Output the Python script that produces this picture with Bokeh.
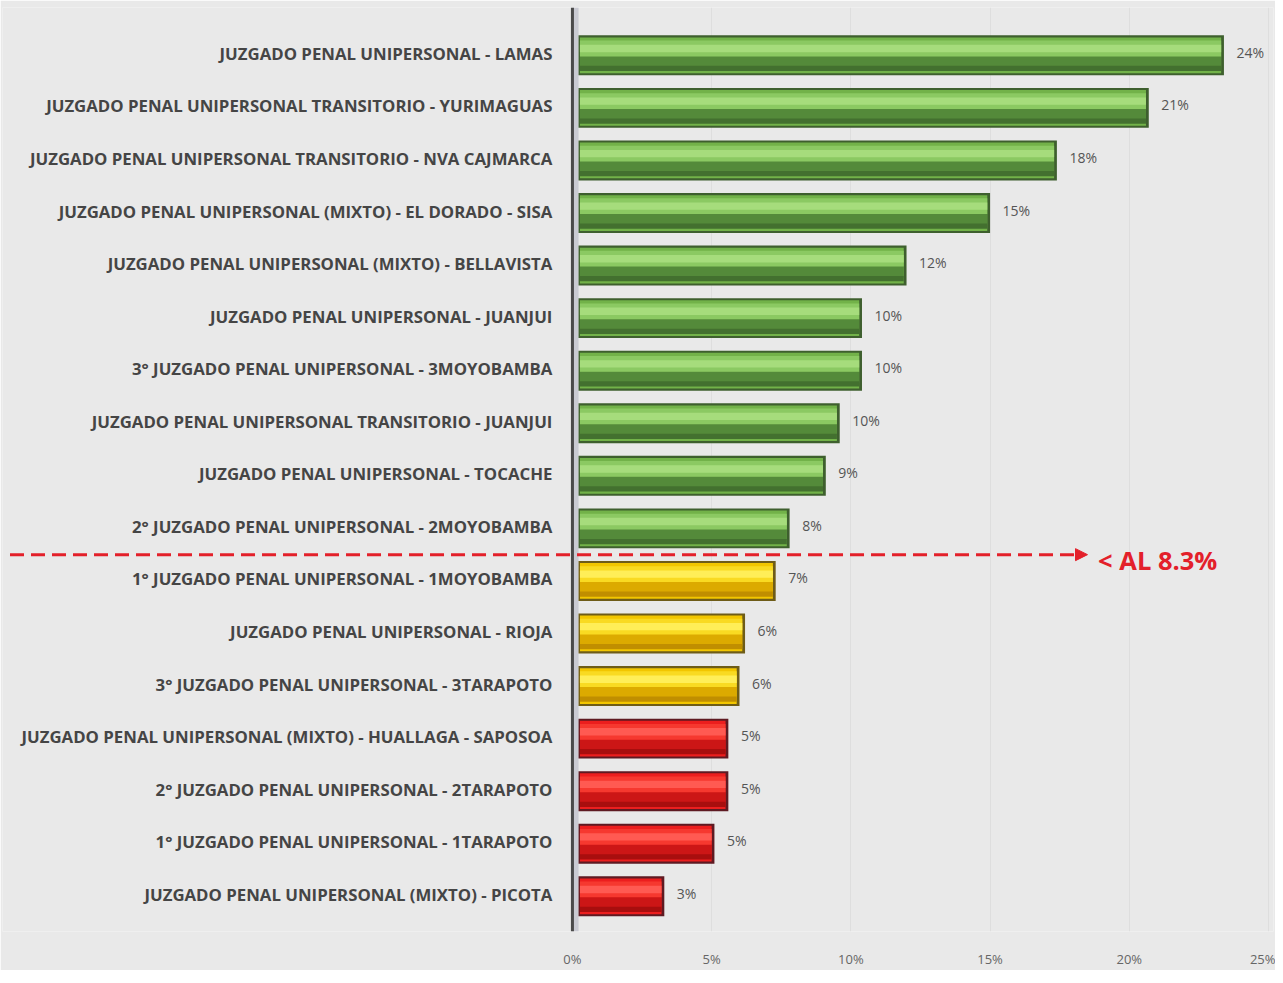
from bokeh.plotting import figure
from bokeh.models import ColumnDataSource, Range1d, FixedTicker, Arrow, NormalHead, Span
from bokeh.core.properties import value
from bokeh.embed import file_html
from bokeh.resources import INLINE

categories = [
    "JUZGADO PENAL UNIPERSONAL - LAMAS",
    "JUZGADO PENAL UNIPERSONAL TRANSITORIO - YURIMAGUAS",
    "JUZGADO PENAL UNIPERSONAL TRANSITORIO - NVA CAJMARCA",
    "JUZGADO PENAL UNIPERSONAL (MIXTO) - EL DORADO - SISA",
    "JUZGADO PENAL UNIPERSONAL (MIXTO) - BELLAVISTA",
    "JUZGADO PENAL UNIPERSONAL - JUANJUI",
    "3° JUZGADO PENAL UNIPERSONAL - 3MOYOBAMBA",
    "JUZGADO PENAL UNIPERSONAL TRANSITORIO - JUANJUI",
    "JUZGADO PENAL UNIPERSONAL - TOCACHE",
    "2° JUZGADO PENAL UNIPERSONAL - 2MOYOBAMBA",
    "1° JUZGADO PENAL UNIPERSONAL - 1MOYOBAMBA",
    "JUZGADO PENAL UNIPERSONAL - RIOJA",
    "3° JUZGADO PENAL UNIPERSONAL - 3TARAPOTO",
    "JUZGADO PENAL UNIPERSONAL (MIXTO) - HUALLAGA - SAPOSOA",
    "2° JUZGADO PENAL UNIPERSONAL - 2TARAPOTO",
    "1° JUZGADO PENAL UNIPERSONAL - 1TARAPOTO",
    "JUZGADO PENAL UNIPERSONAL (MIXTO) - PICOTA",
]
values = [23.4, 20.7, 17.4, 15.0, 12.0, 10.4, 10.4, 9.6, 9.1, 7.8,
          7.3, 6.2, 6.0, 5.6, 5.6, 5.1, 3.3]
value_labels = ["24%", "21%", "18%", "15%", "12%", "10%", "10%", "10%", "9%", "8%",
                "7%", "6%", "6%", "5%", "5%", "5%", "3%"]
groups = ["green"] * 10 + ["yellow"] * 3 + ["red"] * 4
threshold_label = "< AL 8.3%"
threshold_after_index = 9  # line drawn between row 9 and row 10
x_ticks = [0, 5, 10, 15, 20, 25]
x_tick_labels = ["0%", "5%", "10%", "15%", "20%", "25%"]

palette = {
    "green": dict(edge="#3e5f2e", base="#72b249", soft="#8bc962", light="#a6dc7c", dark="#548a3a", deep="#43702f"),
    "yellow": dict(edge="#6e5c18", base="#f2c600", soft="#f9da22", light="#ffee58", dark="#dcaa00", deep="#c08e00"),
    "red": dict(edge="#5e1a22", base="#ec1e1e", soft="#f6382f", light="#ff5a52", dark="#cc1616", deep="#a80e0e"),
}

n = len(categories)
idx = list(range(n))
BAR_START = 0.22
src = ColumnDataSource(dict(
    y=idx,
    y_hi=[i - 0.13 for i in idx],
    y_mid=[i + 0.12 for i in idx],
    y_lo=[i + 0.25 for i in idx],
    val=values,
    val_in=[v - 0.1 for v in values],
    lab=value_labels,
    cat=categories,
    edge=[palette[g]["edge"] for g in groups],
    base=[palette[g]["base"] for g in groups],
    soft=[palette[g]["soft"] for g in groups],
    light=[palette[g]["light"] for g in groups],
    dark=[palette[g]["dark"] for g in groups],
    deep=[palette[g]["deep"] for g in groups],
    lab_x=[v + 0.45 for v in values],
    cat_x=[-0.72] * n,
))

p = figure(width=1275, height=970, output_backend="svg", toolbar_location=None,
           x_range=Range1d(-20.47, 25.18), y_range=Range1d(n - 0.33, -0.91),
           min_border_left=2, min_border_right=2, min_border_top=7, min_border_bottom=30)

p.background_fill_color = "#e9e9e9"
p.border_fill_color = "#e9e9e9"
p.outline_line_color = None

# 3D wall strip next to the axis
p.quad(left=0, right=BAR_START, bottom=n - 0.33, top=-0.91, fill_color="#c9cad2", line_color=None)

# bars (layered to suggest a cylinder)
inner_left = BAR_START + 0.05
p.hbar(y="y", left=BAR_START, right="val", height=0.76, source=src, fill_color="edge", line_color=None)
p.hbar(y="y", left=inner_left, right="val_in", height=0.68, source=src, fill_color="base", line_color=None)
p.hbar(y="y_mid", left=inner_left, right="val_in", height=0.22, source=src, fill_color="dark", line_color=None)
p.hbar(y="y_lo", left=inner_left, right="val_in", height=0.1, source=src, fill_color="deep", line_color=None)
p.hbar(y="y_hi", left=inner_left, right="val_in", height=0.3, source=src, fill_color="soft", line_color=None)
p.hbar(y="y_hi", left=inner_left, right="val_in", height=0.14, source=src, fill_color="light", line_color=None)

# value labels
p.text(x="lab_x", y="y", text="lab", source=src, text_font=value("Open Sans"),
       text_font_size="14px", text_color="#555555", text_baseline="middle", text_align="left",
       y_offset=-3)
# category labels
p.text(x="cat_x", y="y", text="cat", source=src, text_font=value("Open Sans"),
       text_font_size="16.8px", text_font_style="bold", text_color="#454545",
       text_baseline="middle", text_align="right", y_offset=-2)

# vertical axis line
p.add_layout(Span(location=0, dimension="height", line_color="#4a4a4a", line_width=3))

# threshold dashed arrow
ty = threshold_after_index + 0.5
p.add_layout(Arrow(x_start=-20.2, y_start=ty, x_end=18.5, y_end=ty,
                   line_color="#e3202a", line_width=3, line_dash="14 7",
                   end=NormalHead(size=12, fill_color="#e3202a", line_color="#e3202a")))
p.text(x=[18.88], y=[ty], text=[threshold_label], text_font=value("Open Sans"),
       text_font_size="25.5px", text_font_style="bold", text_color="#e3202a",
       text_baseline="middle", text_align="left", y_offset=5)

p.yaxis.visible = False
p.ygrid.grid_line_color = None
p.xgrid.ticker = FixedTicker(ticks=x_ticks[1:])
p.xgrid.grid_line_color = "#dedede"
p.xaxis.ticker = FixedTicker(ticks=x_ticks)
p.xaxis.major_label_overrides = {t: l for t, l in zip(x_ticks, x_tick_labels)}
p.xaxis.axis_line_color = None
p.xaxis.major_tick_line_color = None
p.xaxis.minor_tick_line_color = None
p.xaxis.major_label_text_font = "Open Sans"
p.xaxis.major_label_text_font_size = "13px"
p.xaxis.major_label_text_color = "#666666"
p.xaxis.major_label_standoff = 12

open("out.html", "w").write(file_html(p, INLINE))
